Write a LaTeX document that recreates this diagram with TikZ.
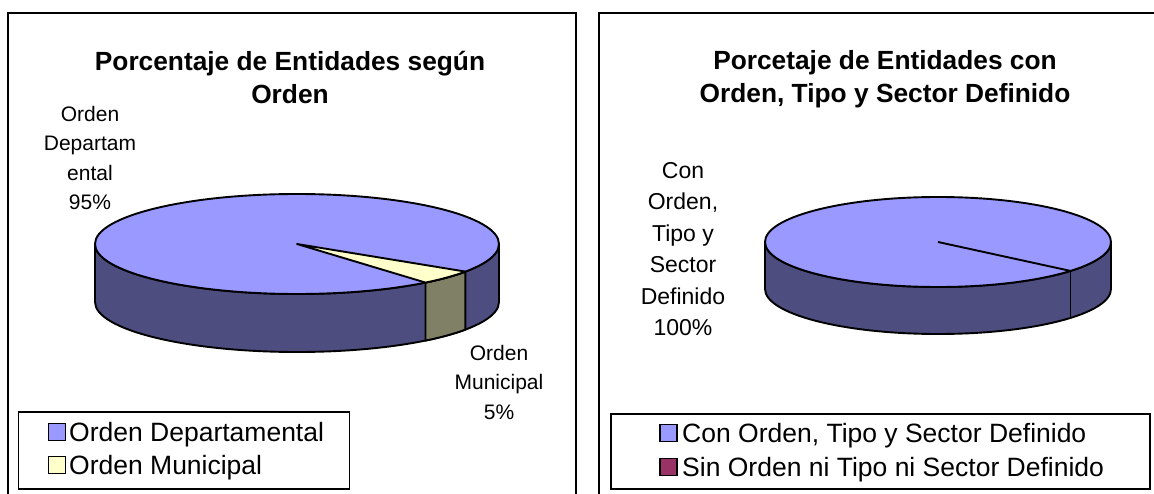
\documentclass[tikz,border=0pt]{standalone}
\usepackage{fontspec}
\setmainfont{Liberation Sans}
\usepackage{xcolor}
\usepackage{tikz}
\usetikzlibrary{calc}
\definecolor{pieblue}{HTML}{9999FF}
\definecolor{sideblue}{HTML}{4D4D80}
\definecolor{pieyellow}{HTML}{FFFFCC}
\definecolor{sideolive}{HTML}{808066}
\definecolor{piewine}{HTML}{993366}
\tikzset{
  panelframe/.style={line width=2.6pt},
  pieline/.style={draw=black, line width=1.9pt, line join=round},
  titletext/.style={align=center, inner sep=0pt, font=\bfseries\fontsize{26.3}{33}\selectfont},
  slicelabel/.style={align=center, inner sep=0pt, font=\fontsize{21}{29.5}\selectfont}}
\tikzset{
  legbox/.style={draw, line width=1.6pt, inner sep=0pt},
  legkey/.style={draw, line width=1.3pt, minimum size=17pt, inner sep=0pt},
  legtext/.style={anchor=west, inner sep=0pt, font=\fontsize{26.5}{33}\selectfont, text height=19pt, text depth=0pt}}

\begin{document}
\begin{tikzpicture}[x=1pt,y=-1pt]
\useasboundingbox (0,0) rectangle (1154,494);
% frames
\draw[panelframe] (8,494) -- (8,13) -- (576,13) -- (576,494);
\draw[panelframe] (599,494) -- (599,13) -- (1154,13);
% left chart
\node[titletext] (TitL) at (290,77) {Porcentaje de Entidades según\\Orden};
\coordinate (LC) at (297,244);
\coordinate (MunA) at ($(LC)+(33.5:202 and 50)$);
\coordinate (MunB) at ($(LC)+(50.5:202 and 50)$);
\filldraw[pieline, fill=sideblue] ($(LC)+(-202,0)$) -- ++(0,58) arc[start angle=180, end angle=0, x radius=202, y radius=50] -- ++(0,-58) arc[start angle=0, end angle=180, x radius=202, y radius=50] -- cycle;
\filldraw[pieline, fill=sideolive] (MunB) -- ++(0,58) arc[start angle=50.5, end angle=33.5, x radius=202, y radius=50] -- (MunA) arc[start angle=33.5, end angle=50.5, x radius=202, y radius=50] -- cycle;
\filldraw[pieline, fill=pieblue] (LC) ellipse [x radius=202, y radius=50];
\filldraw[pieline, fill=pieyellow] (LC) -- (MunB) arc[start angle=50.5, end angle=33.5, x radius=202, y radius=50] -- cycle;
\node[slicelabel] (LabDep) at (90,158) {Orden\\Departam\\ental\\95\%};
\node[slicelabel] (LabMun) at (499,382) {Orden\\Municipal\\5\%};
\node[legbox, minimum width=331pt, minimum height=77pt] (LegL) at (184,450.5) {};
\node[legkey, fill=pieblue] (KeyDep) at (57,432) {};
\node[legkey, fill=pieyellow] (KeyMun) at (57,465) {};
\node[legtext] (TxtDep) at (69,432) {Orden Departamental};
\node[legtext] (TxtMun) at (69,465) {Orden Municipal};
% right chart
\node[titletext] (TitR) at (885,79) {Porcetaje de Entidades con\\Orden, Tipo y Sector Definido};
\coordinate (RC) at (938,242);
\coordinate (SinA) at ($(RC)+(40:173 and 45)$);
\filldraw[pieline, fill=sideblue] ($(RC)+(-173,0)$) -- ++(0,47) arc[start angle=180, end angle=0, x radius=173, y radius=45] -- ++(0,-47) arc[start angle=0, end angle=180, x radius=173, y radius=45] -- cycle;
\draw[pieline] (SinA) -- ++(0,47);
\filldraw[pieline, fill=pieblue] (RC) ellipse [x radius=173, y radius=45];
\draw[pieline] (RC) -- (SinA);
\node[slicelabel, font=\fontsize{23}{31.5}\selectfont] (LabCon) at (683,249) {Con\\Orden,\\Tipo y\\Sector\\Definido\\100\%};
\node[legbox, minimum width=539pt, minimum height=75pt] (LegR) at (880.5,451.5) {};
\node[legkey, fill=pieblue] (KeyCon) at (668.5,433) {};
\node[legkey, fill=piewine] (KeySin) at (668.5,467) {};
\node[legtext] (TxtCon) at (682,433) {Con Orden, Tipo y Sector Definido};
\node[legtext] (TxtSin) at (682,467) {Sin Orden ni Tipo ni Sector Definido};
\end{tikzpicture}
\end{document}
